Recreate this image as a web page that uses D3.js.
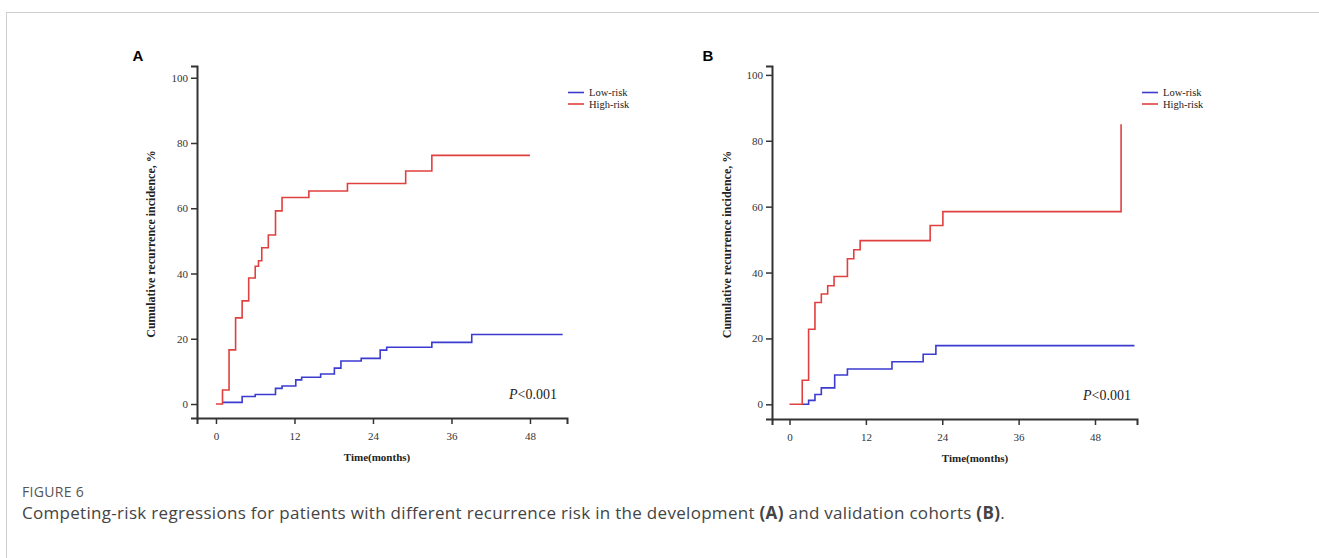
<!DOCTYPE html>
<html>
<head>
<meta charset="utf-8">
<script src="https://cdn.jsdelivr.net/npm/d3@7"></script>
<style>
  body { margin: 0; background: #fff; }
  svg { display: block; }
</style>
</head>
<body>
<svg id="fig" width="1319" height="558"></svg>
<script>
// values (months, cumulative incidence %)
const aHighTime = [0, 1, 2, 3, 4, 5, 6, 6.5, 7, 8, 9.1, 10.1, 14.2, 20.1, 29, 33, 48];
const aHighVal  = [0, 4.3, 16.6, 26.4, 31.6, 38.6, 42.2, 43.9, 47.9, 51.8, 59.2, 63.3, 65.3, 67.6, 71.4, 76.2, 76.2];
const aLowTime  = [1, 4, 6, 9.1, 10.1, 12.2, 13.1, 16, 18.1, 19.1, 22.2, 25.1, 26.1, 33, 39.1, 53];
const aLowVal   = [0.5, 2.3, 2.9, 4.8, 5.5, 7.4, 8.2, 9.2, 11, 13.2, 14, 16.5, 17.4, 18.9, 21.3, 21.3];

const bHighTime = [0, 2, 3, 4, 5, 6, 7, 9.1, 10.1, 11.1, 22.1, 24.1, 52.1];
const bHighVal  = [0, 7.3, 22.8, 30.9, 33.5, 36, 38.8, 44.2, 46.9, 49.7, 54.3, 58.5, 85];
const bLowTime  = [2, 3, 4, 5, 7.1, 9.1, 16.1, 21, 23, 54.2];
const bLowVal   = [0, 1.2, 3, 5, 8.9, 10.7, 12.9, 15.2, 17.8, 17.8];

const xTicks = [0, 12, 24, 36, 48];
const yTicks = [0, 20, 40, 60, 80, 100];
const seriesNames = ["Low-risk", "High-risk"];
const colors = {"Low-risk": "#3b3bd0", "High-risk": "#e0403f"};

const serif = "'Liberation Serif', 'Times New Roman', serif";
const svg = d3.select("#fig");

// light frame round the figure
svg.append("rect")
    .attr("x", 6.5).attr("y", 12.5)
    .attr("width", 1400).attr("height", 700)
    .attr("fill", "none")
    .attr("stroke", "#cfcfcf");

const zip = (t, v) => t.map((d, i) => ({t: d, v: v[i]}));

function panel(opts) {
  const g = svg.append("g").attr("transform", `translate(${opts.left},${opts.top})`);

  const x = d3.scaleLinear().domain(opts.xDomain).range([0, opts.width]);
  const y = d3.scaleLinear().domain(opts.yDomain).range([opts.height, 0]);

  const xAxis = g.append("g")
      .attr("transform", `translate(0,${opts.height})`)
      .call(d3.axisBottom(x).tickValues(xTicks).tickSizeOuter(0).tickSize(6).tickPadding(8));
  const yAxis = g.append("g")
      .call(d3.axisLeft(y).tickValues(yTicks).tickSizeOuter(0).tickSize(6).tickPadding(3));

  [xAxis, yAxis].forEach(a => {
    a.select(".domain").attr("stroke", "#333").attr("stroke-width", 2);
    a.selectAll(".tick line").attr("stroke", "#333").attr("stroke-width", 1.5);
    a.selectAll(".tick text")
        .attr("fill", "#333")
        .style("font-family", serif)
        .style("font-size", "11px");
  });

  const line = d3.line()
      .x(d => x(d.t))
      .y(d => y(d.v))
      .curve(d3.curveStepAfter);

  opts.series.forEach(s => {
    g.append("path")
        .datum(s.data)
        .attr("fill", "none")
        .attr("stroke", colors[s.name])
        .attr("stroke-width", 1.6)
        .attr("d", line);
  });

  // axis titles
  g.append("text")
      .attr("x", opts.xLabelX)
      .attr("y", opts.height + 43)
      .attr("text-anchor", "middle")
      .style("font-family", serif)
      .style("font-weight", "bold")
      .style("font-size", "11px")
      .attr("fill", "#222")
      .text("Time(months)");

  g.append("text")
      .attr("transform", "rotate(-90)")
      .attr("x", -opts.height / 2 - 2)
      .attr("y", opts.yLabelY)
      .attr("text-anchor", "middle")
      .style("font-family", serif)
      .style("font-weight", "bold")
      .style("font-size", "12px")
      .attr("fill", "#222")
      .text("Cumulative recurrence incidence, %");

  // legend
  const leg = g.append("g").attr("transform", `translate(${opts.legendX},${opts.legendY})`);
  seriesNames.forEach((n, i) => {
    leg.append("line")
        .attr("x1", 0).attr("x2", 16)
        .attr("y1", i * 11.5).attr("y2", i * 11.5)
        .attr("stroke", colors[n]).attr("stroke-width", 1.6);
    leg.append("text")
        .attr("x", 21).attr("y", i * 11.5 + 3.5)
        .style("font-family", serif)
        .style("font-size", "10.5px")
        .attr("fill", "#222")
        .text(n);
  });

  // p value
  const p = g.append("text")
      .attr("x", opts.pX)
      .attr("y", opts.height - 19)
      .attr("text-anchor", "end")
      .style("font-family", serif)
      .style("font-size", "14px")
      .attr("fill", "#222");
  p.append("tspan").style("font-style", "italic").text("P");
  p.append("tspan").text("<0.001");

  // panel letter
  svg.append("text")
      .attr("x", opts.letterX)
      .attr("y", 60.5)
      .style("font-family", "Arial, 'Liberation Sans', sans-serif")
      .style("font-weight", "bold")
      .style("font-size", "15px")
      .attr("fill", "#000")
      .text(opts.letter);
}

panel({
  letter: "A", letterX: 132.5,
  left: 197, top: 66, width: 370, height: 352,
  xDomain: [-2.9, 53.66], yDomain: [-4.29, 103.6],
  xLabelX: 180, yLabelY: -42,
  legendX: 371, legendY: 26.5,
  pX: 360,
  series: [
    {name: "Low-risk", data: zip(aLowTime, aLowVal)},
    {name: "High-risk", data: zip(aHighTime, aHighVal)}
  ]
});

panel({
  letter: "B", letterX: 702.5,
  left: 772, top: 66, width: 365, height: 353,
  xDomain: [-2.75, 54.6], yDomain: [-4.46, 102.7],
  xLabelX: 203, yLabelY: -41,
  legendX: 370, legendY: 26.5,
  pX: 359,
  series: [
    {name: "Low-risk", data: zip(bLowTime, bLowVal)},
    {name: "High-risk", data: zip(bHighTime, bHighVal)}
  ]
});

// caption
svg.append("text")
    .attr("x", 22).attr("y", 497)
    .style("font-family", "'Open Sans', 'Noto Sans', sans-serif")
    .style("font-size", "14px")
    .style("letter-spacing", "0.3px")
    .attr("fill", "#555")
    .text("FIGURE 6");

const cap = svg.append("text")
    .attr("x", 22).attr("y", 519)
    .style("font-family", "'Open Sans', 'Noto Sans', sans-serif")
    .style("font-size", "17px")
    .style("letter-spacing", "0.3px")
    .attr("fill", "#444");
cap.append("tspan").text("Competing-risk regressions for patients with different recurrence risk in the development ");
cap.append("tspan").style("font-weight", "bold").text("(A)");
cap.append("tspan").text(" and validation cohorts ");
cap.append("tspan").style("font-weight", "bold").text("(B)");
cap.append("tspan").text(".");
</script>
</body>
</html>
